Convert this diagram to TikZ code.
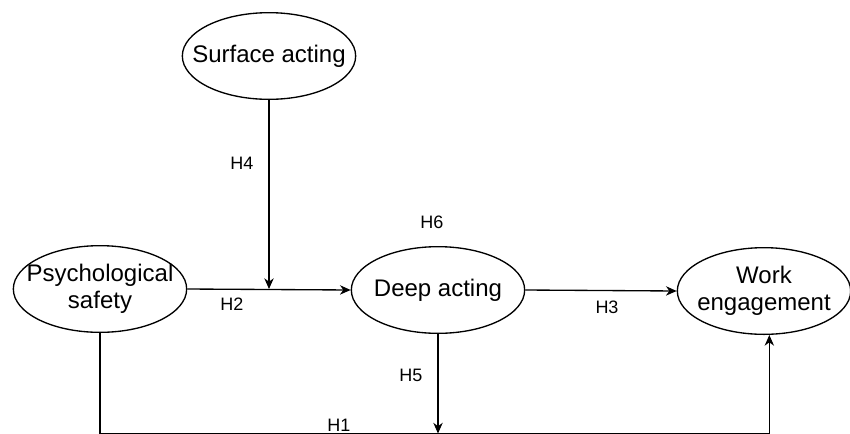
\documentclass[tikz,border=0pt]{standalone}
\usepackage{fontspec}
\setmainfont{Liberation Sans}
\usetikzlibrary{shapes.geometric,arrows.meta}
\tikzstyle{every path}=[line width=1pt]
\tikzstyle{construct}=[draw, ellipse, inner sep=0pt, minimum width=130pt, minimum height=65pt]
\tikzstyle{every label}=[align=center, font=\fontsize{18}{20}\selectfont]
\tikzstyle{hyp}=[font=\fontsize{13.5}{15}\selectfont]
\tikzstyle{link}=[-{Stealth[length=8pt, width=7pt, inset=2.5pt]}]

\begin{document}
\begin{tikzpicture}[x=0.75pt, y=-0.75pt]
            \useasboundingbox (0,0) rectangle (850,433);
            \node[construct, label=center:Surface acting] (surface) at (269, 56) {};
            \node[construct, label=center:Psychological\\safety] (psych) at (100, 289) {};
            \node[construct, label=center:Deep acting] (deep) at (438, 290) {};
            \node[construct, label=center:Work\\engagement] (work) at (764, 291) {};
            \coordinate (base) at (0, 433.5);
            \draw[link] (psych.east) -- (deep.west);
            \draw[link] (surface.south) -- (surface.south |- psych.east);
            \draw[link] (deep.east) -- (work.west);
            \draw[link] (deep.south) -- (deep.south |- base);
            \draw[link] (psych.south) -- (psych.south |- base) -| ([xshift=4pt]work.south);
            \node[hyp] (h4) at (242, 163) {H4};
            \node[hyp] (h6) at (432, 222) {H6};
            \node[hyp] (h2) at (232, 304) {H2};
            \node[hyp] (h3) at (607, 307) {H3};
            \node[hyp] (h5) at (411, 375) {H5};
            \node[hyp] (h1) at (339, 425) {H1};
        \end{tikzpicture}
\end{document}
